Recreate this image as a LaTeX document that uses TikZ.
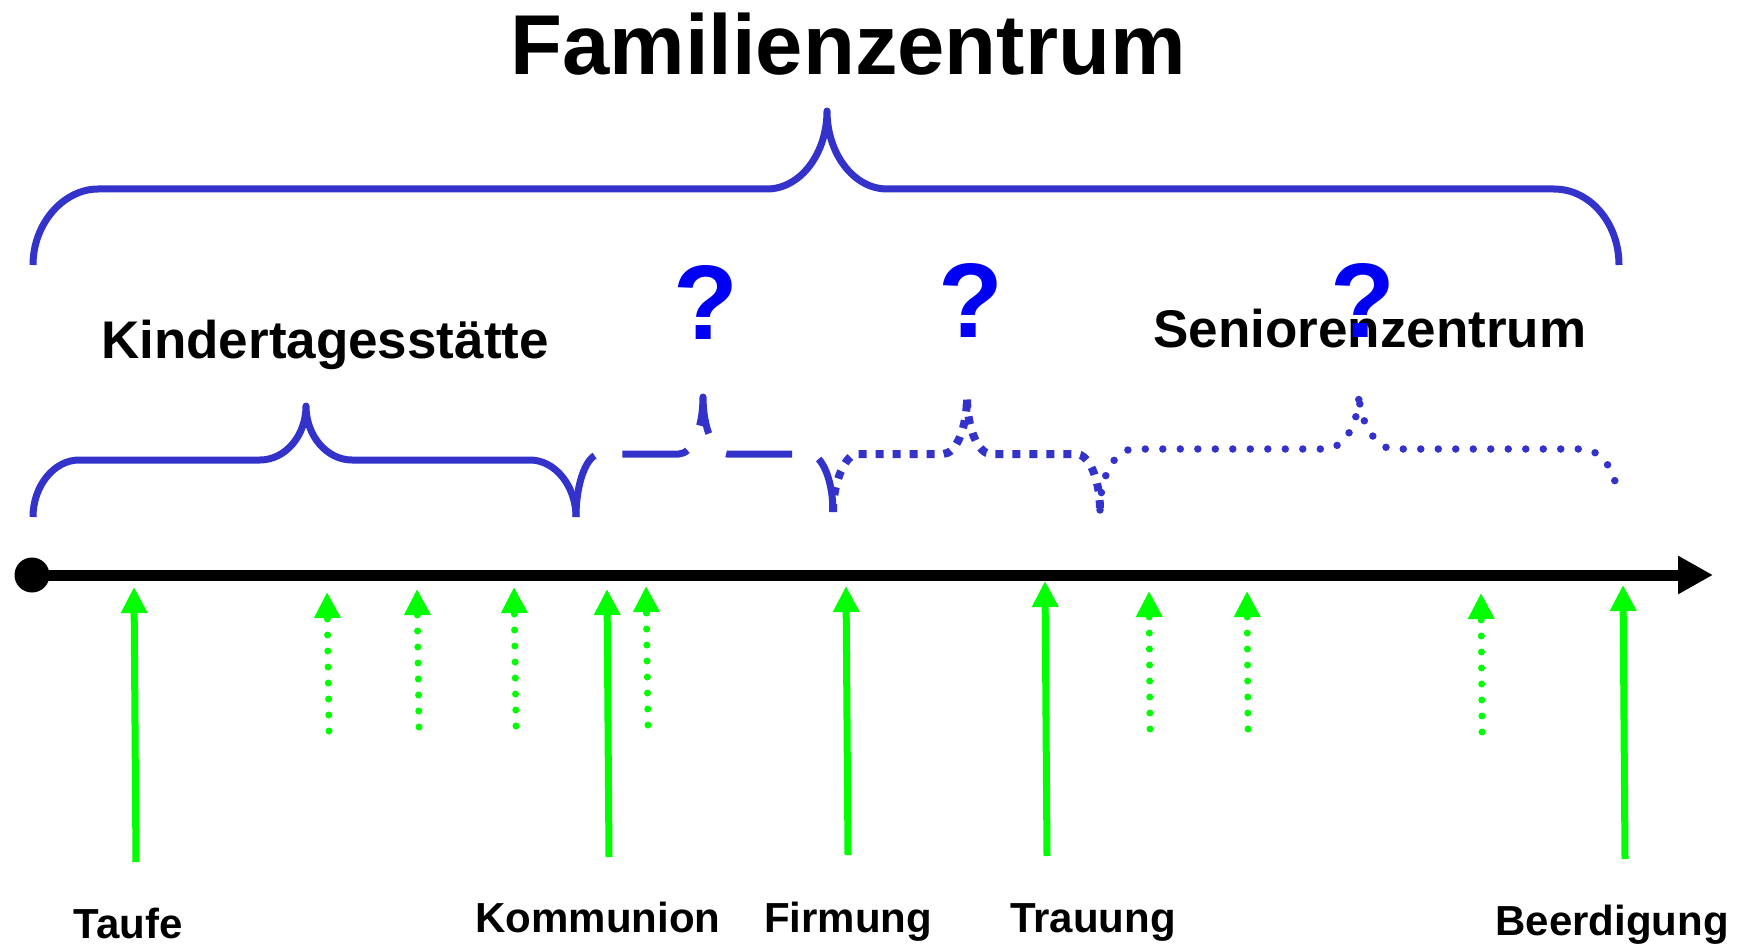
\documentclass[tikz,border=0pt]{standalone}
\usepackage{fontspec}
\setmainfont{Liberation Sans}
\usetikzlibrary{arrows.meta}

\definecolor{braceblue}{RGB}{51,51,204}
\definecolor{qblue}{RGB}{0,0,245}
\definecolor{evgreen}{RGB}{0,255,0}

\tikzset{
  brace/.style={draw=braceblue, line width=7pt, line join=round},
  dashbrace/.style={brace, dash pattern=on 66pt off 28pt},
  squarebrace/.style={brace, line width=8pt, dash pattern=on 8pt off 9pt},
  dotbrace/.style={brace, line width=7.5pt, line cap=round, dash pattern=on 0pt off 17.5pt},
  titletxt/.style={font=\bfseries\fontsize{85}{100}\selectfont, inner sep=0pt, anchor=base},
  areatxt/.style={font=\bfseries\fontsize{53}{60}\selectfont, inner sep=0pt, anchor=base},
  eventtxt/.style={font=\bfseries\fontsize{42}{50}\selectfont, inner sep=0pt, anchor=base},
  qmark/.style={font=\bfseries\fontsize{106}{120}\selectfont, text=qblue, inner sep=0pt, anchor=base},
  majorevent/.style={draw=evgreen, line width=7pt, -{Triangle[length=26pt,width=25pt]}},
  minorevent/.style={majorevent, line cap=round, dash pattern=on 0pt off 16pt},
  timeline/.style={line width=11pt, -{Triangle[length=35pt,width=36pt]}},
}

\begin{document}
\begin{tikzpicture}[x=1pt, y=-1pt]
\useasboundingbox (0,0) rectangle (1745,944);

% title
\node[titletxt] (title) at (848,75) {Familienzentrum};

% overall brace
\draw[brace] (33,265) .. controls (33,223) and (64,189) .. (98,189) -- (767,189)
  .. controls (800,189) and (827,154) .. (827,111)
  .. controls (827,154) and (854,189) .. (887,189) -- (1554,189)
  .. controls (1590,189) and (1619,223) .. (1619,265);

% area labels
\node[areatxt] (kita) at (325,358) {Kindertagesstätte};
\node[areatxt] (senior) at (1370,347) {Seniorenzentrum};

% open questions
\node[qmark] (q1) at (706,339) {?};
\node[qmark] (q2) at (971,337) {?};
\node[qmark] (q3) at (1363,337) {?};

% life phase braces
\draw[brace] (33,517) .. controls (33,486) and (54,460) .. (79,460) -- (260,460)
  .. controls (285,460) and (306,436) .. (306,406)
  .. controls (306,436) and (327,460) .. (352,460) -- (530,460)
  .. controls (555,460) and (576,486) .. (576,517);
\draw[dashbrace] (576,517) .. controls (576,482) and (587,454) .. (600,454) -- (679,454)
  .. controls (692,454) and (703,428) .. (703,397)
  .. controls (703,428) and (714,454) .. (727,454) -- (809,454)
  .. controls (822,454) and (833,480) .. (833,512);
\draw[squarebrace] (833,512) .. controls (833,481) and (846,454) .. (857,454) -- (943,454)
  .. controls (956,454) and (967,428) .. (967,397)
  .. controls (967,428) and (978,454) .. (991,454) -- (1076,454)
  .. controls (1089,454) and (1100,479) .. (1100,510);
\draw[dotbrace] (1100,510) .. controls (1100,476) and (1115,449) .. (1134,449) -- (1325,449)
  .. controls (1344,449) and (1359,424) .. (1359,393)
  .. controls (1359,424) and (1378,449) .. (1393,449) -- (1582,449)
  .. controls (1601,449) and (1616,472) .. (1616,490);

% time axis
\node[circle, fill=black, minimum size=35pt, inner sep=0pt] (birth) at (32,575) {};
\coordinate (axisend) at (1713,575);
\draw[timeline] (birth.center) -- (axisend);

% major events
\coordinate (taufeA) at (136,862);  \coordinate (taufeB) at (134,587);
\coordinate (kommA) at (609,857);   \coordinate (kommB) at (607,589);
\coordinate (firmA) at (848,855);   \coordinate (firmB) at (846,586);
\coordinate (trauA) at (1047,856);  \coordinate (trauB) at (1045,581);
\coordinate (beerA) at (1625,859);  \coordinate (beerB) at (1623,585);
\draw[majorevent] (taufeA) -- (taufeB);
\draw[majorevent] (kommA) -- (kommB);
\draw[majorevent] (firmA) -- (firmB);
\draw[majorevent] (trauA) -- (trauB);
\draw[majorevent] (beerA) -- (beerB);

% minor events
\coordinate (m1A) at (329,731);  \coordinate (m1B) at (327,592);
\coordinate (m2A) at (419,727);  \coordinate (m2B) at (417,589);
\coordinate (m3A) at (516,726);  \coordinate (m3B) at (514,587);
\coordinate (m4A) at (648,725);  \coordinate (m4B) at (646,586);
\coordinate (m5A) at (1150,729); \coordinate (m5B) at (1149,591);
\coordinate (m6A) at (1248,729); \coordinate (m6B) at (1247,591);
\coordinate (m7A) at (1482,732); \coordinate (m7B) at (1481,593);
\draw[minorevent] (m1A) -- (m1B);
\draw[minorevent] (m2A) -- (m2B);
\draw[minorevent] (m3A) -- (m3B);
\draw[minorevent] (m4A) -- (m4B);
\draw[minorevent] (m5A) -- (m5B);
\draw[minorevent] (m6A) -- (m6B);
\draw[minorevent] (m7A) -- (m7B);

% event labels
\node[eventtxt] (taufe) at (128,938) {Taufe};
\node[eventtxt] (kommunion) at (598,932) {Kommunion};
\node[eventtxt] (firmung) at (848,932) {Firmung};
\node[eventtxt] (trauung) at (1093,932) {Trauung};
\node[eventtxt] (beerdigung) at (1612,935) {Beerdigung};
\end{tikzpicture}
\end{document}
